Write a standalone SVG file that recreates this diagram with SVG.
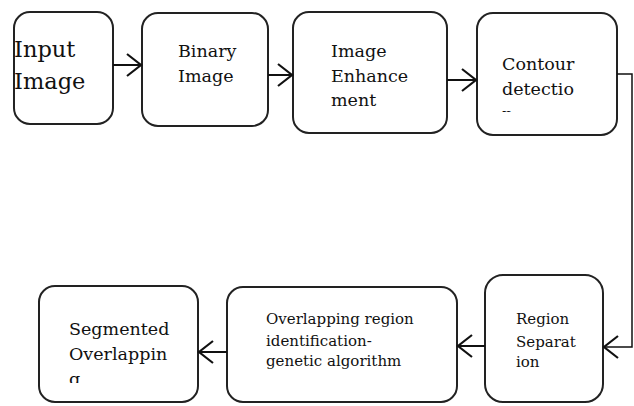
<svg xmlns="http://www.w3.org/2000/svg" width="634" height="406" viewBox="0 0 634 406">
<style>
.box{fill:#fff;stroke:#222;stroke-width:2}
.t{font-family:"DejaVu Serif","Liberation Serif",serif;fill:#111;font-size:17.5px}
.big{font-size:22.5px}
.sm{font-size:15px}
.c{fill:none;stroke:#111;stroke-width:2.2}
.c2{fill:none;stroke:#111;stroke-width:1.5}
</style>
<defs>
<clipPath id="clip4"><rect x="477" y="13" width="140" height="99"/></clipPath>
<clipPath id="clipS"><rect x="39" y="286" width="159" height="97"/></clipPath>
</defs>
<rect width="634" height="406" fill="#fff"/>
<g id="n-input"><rect class="box" x="14" y="12" width="99" height="112" rx="16"/><text class="t big" x="14" y="57">Input</text><text class="t big" x="14" y="89">Image</text></g>
<g id="n-binary"><rect class="box" x="142" y="13" width="126" height="113" rx="16"/><text class="t" x="178" y="57">Binary</text><text class="t" x="178" y="82">Image</text></g>
<g id="n-enhance"><rect class="box" x="293" y="12" width="154" height="121" rx="16"/><text class="t" x="331" y="57">Image</text><text class="t" x="331" y="82">Enhance</text><text class="t" x="331" y="106">ment</text></g>
<g id="n-contour"><rect class="box" x="477" y="13" width="140" height="122" rx="16"/><g clip-path="url(#clip4)"><text class="t" x="502" y="70">Contour</text><text class="t" x="502" y="95">detectio</text><text class="t" x="502" y="120">n</text></g></g>
<g id="n-region"><rect class="box" x="485" y="275" width="118" height="127" rx="18"/><text class="t sm" x="516" y="324">Region</text><text class="t sm" x="516" y="347">Separat</text><text class="t sm" x="516" y="367">ion</text></g>
<g id="n-overlap"><rect class="box" x="227" y="287" width="230" height="115" rx="16"/><text class="t sm" x="266" y="324">Overlapping region</text><text class="t sm" x="266" y="346">identification-</text><text class="t sm" x="266" y="366">genetic algorithm</text></g>
<g id="n-segmented"><rect class="box" x="39" y="286" width="159" height="116" rx="16"/><g clip-path="url(#clipS)"><text class="t" x="69" y="335">Segmented</text><text class="t" x="69" y="360">Overlappin</text><text class="t" x="69" y="385">g</text></g></g>
<g id="connectors">
<path class="c" d="M113 65H141M127 54L141 65L127 76"/>
<path class="c" d="M268 75H292M278 64L292 75L278 86"/>
<path class="c" d="M447 80H476M462 69L476 80L462 91"/>
<path class="c2" d="M617 74H632V347H604"/>
<path class="c" d="M618 336L604 347L618 358"/>
<path class="c" d="M485 346H458M472 335L458 346L472 357"/>
<path class="c" d="M227 352H199M213 341L199 352L213 363"/>
</g>
</svg>
